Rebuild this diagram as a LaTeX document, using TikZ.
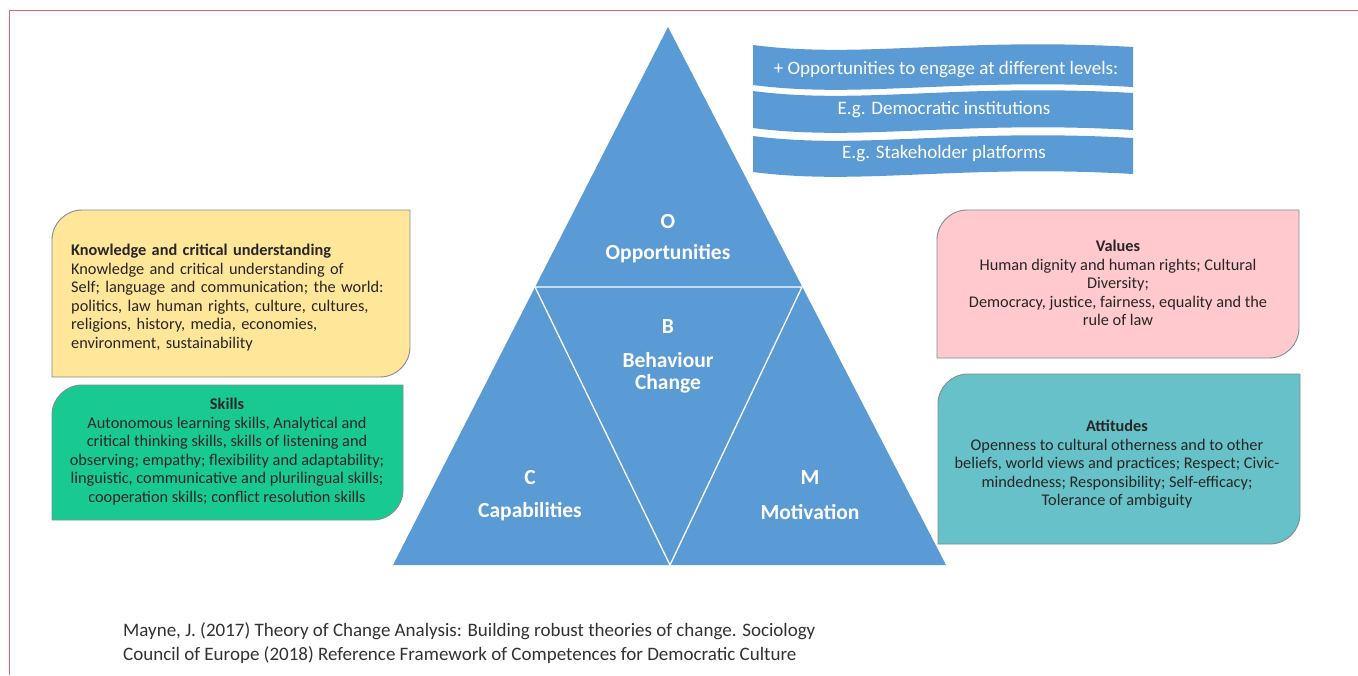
\documentclass[tikz,border=0pt]{standalone}
\usepackage{fontspec}
\setmainfont{Carlito}
\definecolor{triblue}{RGB}{91,155,213}
\definecolor{kyellow}{RGB}{255,230,153}
\definecolor{kgreen}{RGB}{24,202,146}
\definecolor{kpink}{RGB}{255,201,206}
\definecolor{kteal}{RGB}{102,194,200}
\definecolor{boxline}{RGB}{130,140,150}
\definecolor{redline}{RGB}{232,100,100}
\definecolor{boxtext}{RGB}{38,38,38}
\definecolor{reftext}{RGB}{50,50,50}
\newcommand\cornerbox[6]{%
  \path[boxshape,fill=#6] (#1,#4) -- (#1,#2+#5) .. controls (#1,#2+0.45*#5) and (#1+0.45*#5,#2) .. (#1+#5,#2)
    -- (#3,#2) -- (#3,#4-#5) .. controls (#3,#4-0.45*#5) and (#3-0.45*#5,#4) .. (#3-#5,#4) -- cycle;}
\newcommand\wavebanner[2]{%
  \path[fill=triblue] (753,#1) .. controls (860,#1+14) and (960,#1-8) .. (1133,#1+2)
    -- (1133,#1+2+#2) .. controls (960,#1-8+#2) and (860,#1+14+#2) .. (753,#1+#2) -- cycle;}
\begin{document}
\begin{tikzpicture}[x=1pt,y=-1pt,
  boxshape/.style={draw=boxline,line width=0.9pt},
  boxtxt/.style={text=boxtext,inner sep=0pt,font=\fontsize{16.3}{18.5}\selectfont},
  tritxt/.style={text=white,inner sep=0pt,font=\fontsize{21.5}{25}\selectfont\bfseries},
  bantxt/.style={text=white,inner sep=0pt,font=\fontsize{19}{22}\selectfont},
  reftxt/.style={anchor=west,inner sep=0pt,text=reftext,font=\fontsize{19}{24}\selectfont},
  innerline/.style={draw=white,line width=1.3pt}]
\useasboundingbox (0,0) rectangle (1358,675);
\fill[white] (0,0) rectangle (1358,675);
\draw[redline,line width=1.5pt] (9.5,675) -- (9.5,10.5) -- (1358,10.5);
% banners
\wavebanner{45}{40}
\wavebanner{91}{37}
\wavebanner{136}{36}
\node[bantxt] (ban1) at (946,70) {+ Opportunities to engage at different levels:};
\node[bantxt] (ban2) at (944,110) {E.g. Democratic institutions};
\node[bantxt] (ban3) at (944,154) {E.g. Stakeholder platforms};
% boxes
\cornerbox{52}{210}{410}{377}{30}{kyellow}
\cornerbox{52}{385}{403}{520}{30}{kgreen}
\cornerbox{937}{210}{1299}{358}{30}{kpink}
\cornerbox{938}{374}{1300}{544}{30}{kteal}
\node[boxtxt,anchor=north west,text width=335,align=left] (know) at (71,244)
  {\textbf{Knowledge and critical understanding}\\
   Knowledge and critical understanding of\\
   Self; language and communication; the world:\\
   politics, law human rights, culture, cultures,\\
   religions, history, media, economies,\\
   environment, sustainability};
\node[boxtxt,anchor=north,align=center] (skills) at (227,398)
  {\textbf{Skills}\\
   Autonomous learning skills, Analytical and\\
   critical thinking skills, skills of listening and\\
   observing; empathy; flexibility and adaptability;\\
   linguistic, communicative and plurilingual skills;\\
   cooperation skills; conflict resolution skills};
\node[boxtxt,anchor=north,align=center] (values) at (1118,240)
  {\textbf{Values}\\
   Human dignity and human rights; Cultural\\
   Diversity;\\
   Democracy, justice, fairness, equality and the\\
   rule of law};
\node[boxtxt,anchor=north,align=center] (attitudes) at (1117,420)
  {\textbf{Attitudes}\\
   Openness to cultural otherness and to other\\
   beliefs, world views and practices; Respect; Civic-\\
   mindedness; Responsibility; Self-efficacy;\\
   Tolerance of ambiguity};
% triangle
\coordinate (apex) at (668,27);
\coordinate (bl) at (393,565);
\coordinate (br) at (946,565);
\coordinate (ml) at (535,287);
\coordinate (mr) at (802,287);
\coordinate (mb) at (670,565);
\fill[triblue] (apex) -- (br) -- (bl) -- cycle;
\draw[innerline] (ml) -- (mr) -- (mb) -- cycle;
\node[tritxt] (o) at (668,222) {O};
\node[tritxt] (opp) at (668,254) {Opportunities};
\node[tritxt] (b) at (668,327) {B};
\node[tritxt] (beh) at (668,360) {Behaviour};
\node[tritxt] (chg) at (668,384) {Change};
\node[tritxt] (c) at (530,478) {C};
\node[tritxt] (cap) at (530,512) {Capabilities};
\node[tritxt] (m) at (810,478) {M};
\node[tritxt] (mot) at (810,512) {Motivation};
% reference
\node[reftxt] (ref1) at (123,631)
  {Mayne, J. (2017) Theory of Change Analysis: Building robust theories of change. Sociology};
\node[reftxt] (ref2) at (123,655)
  {Council of Europe (2018) Reference Framework of Competences for Democratic Culture};
\end{tikzpicture}
\end{document}
